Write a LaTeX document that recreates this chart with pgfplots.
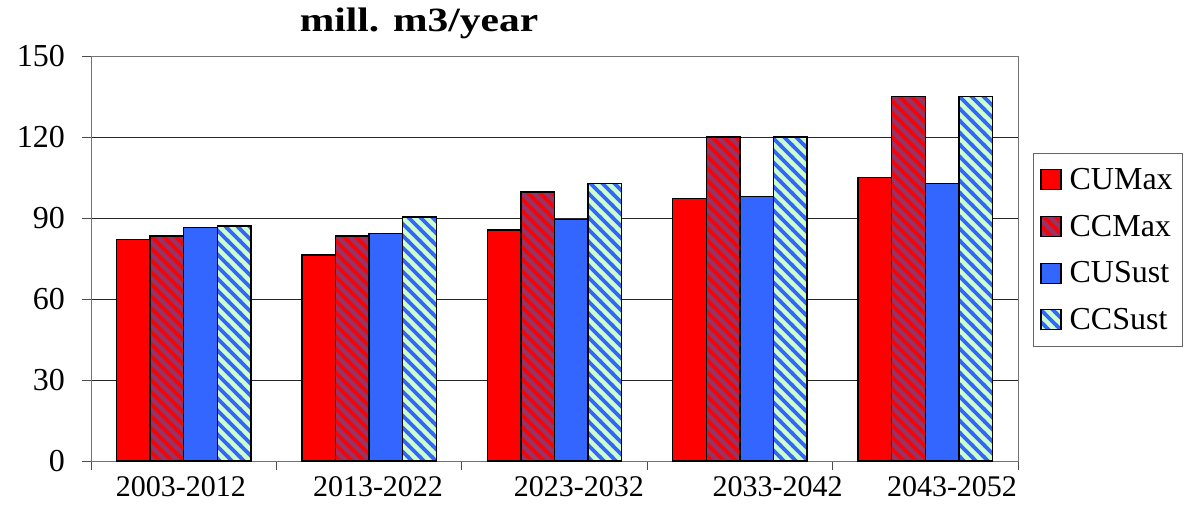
\documentclass[border=0pt]{standalone}
\usepackage{fontspec}
\setmainfont{Liberation Serif}
\usepackage{graphicx}
\usepackage{pgfplots}
\pgfplotsset{compat=1.18}
\usetikzlibrary{patterns}

\definecolor{cumax}{HTML}{FF0000}
\definecolor{ccmaxbg}{HTML}{993366}
\definecolor{cusust}{HTML}{3366FF}
\definecolor{ccsustbg}{HTML}{CCFFCC}

\pgfdeclarepatternformonly{thicknw}{\pgfqpoint{-1bp}{-1bp}}{\pgfqpoint{13bp}{13bp}}{\pgfqpoint{12bp}{12bp}}{%
  \pgfsetlinewidth{3.8bp}%
  \pgfpathmoveto{\pgfqpoint{-1bp}{13bp}}\pgfpathlineto{\pgfqpoint{13bp}{-1bp}}%
  \pgfpathmoveto{\pgfqpoint{-1bp}{1bp}}\pgfpathlineto{\pgfqpoint{1bp}{-1bp}}%
  \pgfpathmoveto{\pgfqpoint{11bp}{13bp}}\pgfpathlineto{\pgfqpoint{13bp}{11bp}}%
  \pgfusepath{stroke}}

\begin{document}
\begin{tikzpicture}
\useasboundingbox (-91bp,-44bp) rectangle (1098bp,461bp);
\begin{axis}[
  scale only axis,
  width=927bp, height=405bp,
  xmin=0, xmax=5, ymin=0, ymax=150,
  ytick={0,30,60,90,120,150},
  xtick={0,1,2,3,4,5},
  xticklabels={},
  extra x ticks={0.485,1.548,2.632,3.703,4.644},
  extra x tick labels={2003-2012,2013-2022,2023-2032,2033-2042,2043-2052},
  extra x tick style={major tick length=0pt},
  tick pos=left,
  tick align=outside,
  major tick length=9bp,
  tick style={black!70, line width=0.8bp},
  ymajorgrids,
  major grid style={black!85, line width=0.8bp},
  axis line style={black!55, line width=0.9bp},
  /pgf/number format/assume math mode=true,
  xticklabel style={font=\fontsize{30bp}{36bp}\selectfont, inner sep=0pt, anchor=north, yshift=-15bp},
  yticklabel style={font=\fontsize{32bp}{38bp}\selectfont, inner sep=0pt, xshift=-17bp},
  title={\scalebox{1.22}[1]{\textbf{mill. m3/year}}},
  title style={at={(0.3538,1.045)}, anchor=base, font=\fontsize{34bp}{40bp}\selectfont, inner sep=0pt},
  ybar=0pt,
  bar width=33.6bp,
  legend style={at={(1.0162,0.7605)}, anchor=north west, draw=black!60, line width=0.8bp, fill=white,
    font=\fontsize{32bp}{38bp}\selectfont, inner xsep=7bp, inner ysep=12bp,
    nodes={inner sep=3bp}, row sep=18bp,
    /tikz/every odd column/.append style={column sep=5bp}},
  legend cell align=left,
  legend image code/.code={\draw[#1,line width=1.2bp] (0bp,-10bp) rectangle (20bp,10bp);},
]
\addplot[draw=black, line width=1.5bp, fill=cumax] coordinates {(0.5,82) (1.5,76.3) (2.5,85.5) (3.5,97.2) (4.5,105)};
\addplot[draw=black, line width=1.5bp, fill=ccmaxbg, postaction={pattern=thicknw, pattern color=cumax}] coordinates {(0.5,83.3) (1.5,83.3) (2.5,99.6) (3.5,120) (4.5,135)};
\addplot[draw=black, line width=1.5bp, fill=cusust] coordinates {(0.5,86.4) (1.5,84.2) (2.5,89.4) (3.5,98) (4.5,102.8)};
\addplot[draw=black, line width=1.5bp, fill=ccsustbg, postaction={pattern=thicknw, pattern color=cusust}] coordinates {(0.5,87) (1.5,90.3) (2.5,102.8) (3.5,120) (4.5,135)};
\legend{CUMax,CCMax,CUSust,CCSust}
\end{axis}
\end{tikzpicture}
\end{document}
